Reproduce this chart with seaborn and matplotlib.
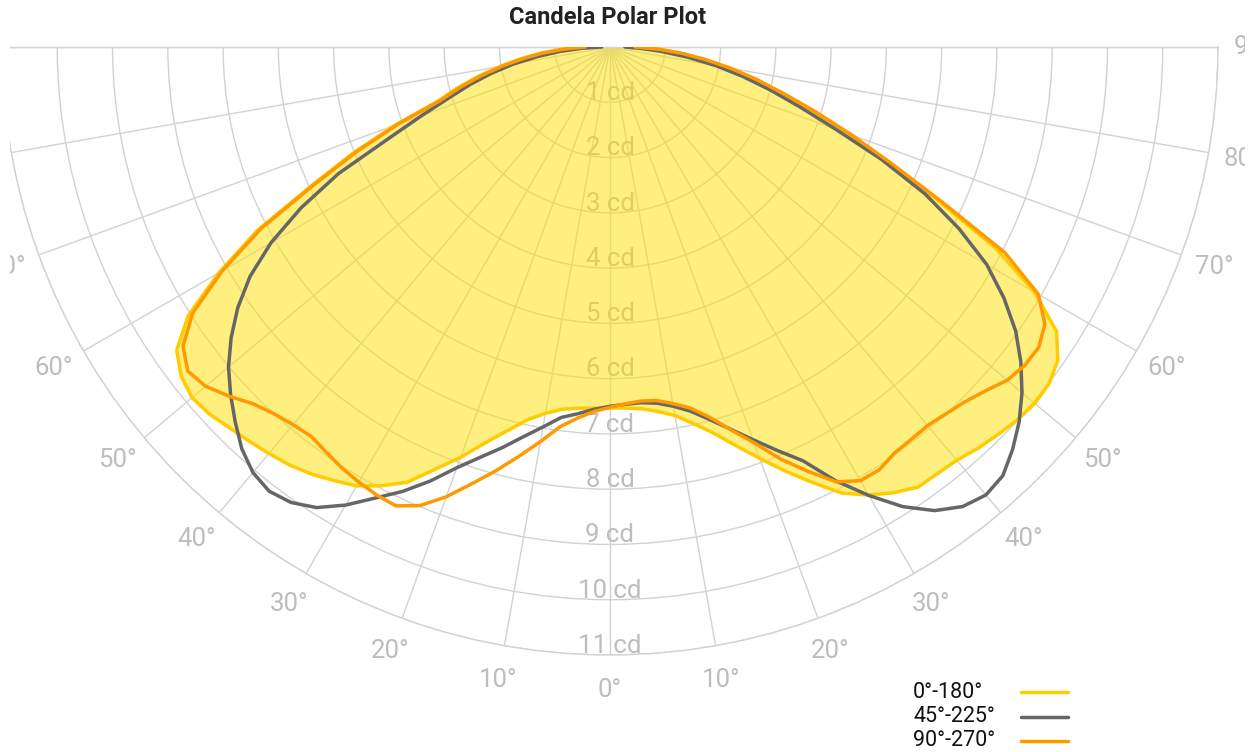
import numpy as np
import pandas as pd
import matplotlib
matplotlib.use("Agg")
import matplotlib.pyplot as plt
from matplotlib.lines import Line2D
from matplotlib.transforms import Bbox, TransformedBbox
import seaborn as sns

# ---------------- data ----------------
# vertical (gamma) angles, -90 .. 90 in 2.5 degree steps
gamma_deg = [-90 + 2.5 * i for i in range(73)]

cd_0_180 = [0.48, 0.85, 1.25, 1.62, 2.02, 2.43, 2.85, 3.27, 4.15, 5.05, 5.99, 7.2,
            8.17, 9.05, 9.57, 9.78, 9.87, 9.83, 9.74, 9.67, 9.60, 9.53, 9.43, 9.30,
            9.17, 8.95, 8.69, 8.27, 7.90, 7.51, 7.19, 6.91, 6.73, 6.61, 6.56, 6.54,
            6.53,
            6.54, 6.57, 6.65, 6.77, 6.98, 7.23, 7.56, 7.92, 8.31, 8.70, 9.10, 9.36,
            9.56, 9.72, 9.73, 9.76, 9.85, 9.92, 9.99, 10.03, 10.01, 9.89, 9.58, 8.87,
            7.85, 6.52, 5.45, 4.61, 3.86, 3.23, 2.70, 2.20, 1.72, 1.28, 0.85, 0.42]
cd_45_225 = [0.15, 0.5, 0.9, 1.32, 1.77, 2.2, 2.62, 3.05, 3.62, 4.35, 5.42, 6.3,
             7.08, 7.72, 8.22, 8.64, 9.01, 9.31, 9.59, 9.86, 10.05, 10.13, 10.06, 9.88,
             9.57, 9.2, 8.87, 8.50, 8.10, 7.78, 7.50, 7.22, 6.98, 6.76, 6.66, 6.56,
             6.50,
             6.47, 6.46, 6.50, 6.60, 6.75, 6.98, 7.25, 7.56, 7.90, 8.26, 8.85, 9.37,
             9.86, 10.24, 10.48, 10.58, 10.52, 10.30, 10.04, 9.73, 9.37, 8.96, 8.45, 7.87,
             7.12, 6.29, 5.32, 4.34, 3.6, 3.0, 2.46, 1.95, 1.42, 0.95, 0.55, 0.27]
cd_90_270 = [0.45, 0.82, 1.2, 1.57, 1.97, 2.38, 2.8, 3.22, 4.08, 4.98, 5.93, 7.12,
             8.1, 8.95, 9.43, 9.63, 9.55, 9.35, 9.13, 9.0, 8.92, 8.88, 8.95, 9.03,
             9.09, 9.14, 9.16, 8.98, 8.66, 8.28, 7.93, 7.58, 7.25, 6.93, 6.74, 6.6,
             6.52,
             6.46, 6.43, 6.45, 6.55, 6.69, 6.93, 7.26, 7.62, 8.07, 8.47, 8.87, 9.06,
             9.07, 8.97, 8.95, 8.94, 9.0, 9.08, 9.21, 9.38, 9.46, 9.47, 9.33, 8.95,
             8.05, 6.62, 5.52, 4.65, 3.9, 3.25, 2.72, 2.22, 1.74, 1.3, 0.87, 0.45]

series_names = ["0°-180°", "45°-225°", "90°-270°"]
series_colors = ["#ffcc00", "#666666", "#ff9900"]
radial_ticks = list(range(1, 12))
angle_ticks = list(range(-90, 91, 10))
angle_labels_shown = list(range(-70, 91, 10))

# ---------------- style ----------------
sns.set_style("white")
plt.rcParams["font.family"] = ["Roboto", "DejaVu Sans"]

W, H = 1256, 752
fig = plt.figure(figsize=(W / 100, H / 100), dpi=100)

# centre of the half-disc at (610, 47) px from top-left, radius 608 px
cx, cy, R = 610, 47, 608
# polar wedge bbox is kept square, so give a square box centred on the half-disc
box_top = cy + R / 2 - R
ax = fig.add_axes([(cx - R) / W, (H - box_top - 2 * R) / H, 2 * R / W, 2 * R / H],
                  projection="polar")
ax.set_theta_zero_location("S")
ax.set_theta_direction(1)
ax.set_thetamin(-90)
ax.set_thetamax(90)
ax.set_ylim(0, 11)
ax.set_axisbelow(True)

clip = TransformedBbox(Bbox([[10 / W, 0], [1245 / W, 1]]), fig.transFigure)

grid_col = "#d2d2d2"
ax.set_thetagrids(angle_ticks, labels=[""] * len(angle_ticks))
ax.set_rgrids(radial_ticks, labels=[""] * len(radial_ticks))
ax.grid(True, color=grid_col, linewidth=1.0)
for gl in ax.xaxis.get_gridlines() + ax.yaxis.get_gridlines():
    gl.set_clip_box(clip)
for sp in ax.spines.values():
    sp.set_color(grid_col)
    sp.set_linewidth(1.0)
    sp.set_clip_box(clip)
    sp.set_clip_on(True)
ax.tick_params(axis="both", length=0)

label_col = "#bdbdbd"
# radial labels (under the fill)
for k in radial_ticks:
    ax.text(0, k - 0.04, f"{k} cd", ha="center", va="baseline", fontsize=18.5,
            color=label_col, zorder=1)
# angle labels
for a in angle_labels_shown:
    t = ax.text(np.deg2rad(a), 11.63, f"{abs(a)}°", ha="center", va="center",
                fontsize=18.5, color=label_col, zorder=1)
    t.set_clip_box(clip)
    t.set_clip_on(True)

# ---------------- data marks ----------------
theta = np.deg2rad(np.array(gamma_deg, dtype=float))
ax.fill_between(theta, 0, cd_0_180, color="#ffe000", alpha=0.5, linewidth=0, zorder=2)

df = pd.DataFrame({
    "theta": np.concatenate([theta] * 3),
    "cd": np.concatenate([cd_0_180, cd_45_225, cd_90_270]),
    "series": np.repeat(series_names, len(theta)),
})
sns.lineplot(data=df, x="theta", y="cd", hue="series", hue_order=series_names,
             palette=dict(zip(series_names, series_colors)), sort=False,
             estimator=None, legend=False, linewidth=2.5, ax=ax, zorder=3)
ax.set_xlabel("")
ax.set_ylabel("")

# ---------------- title & legend ----------------
fig.text(608 / W, 1 - 18 / H, "Candela Polar Plot", ha="center", va="center",
         fontsize=17, fontweight="bold", color="#222222")

leg_y = [692, 717, 741]
for name, col, y in zip(series_names, series_colors, leg_y):
    fig.text(913 / W, 1 - y / H, name, ha="left", va="center", fontsize=15.5, color="#111111")
    fig.add_artist(Line2D([1021 / W, 1068 / W], [1 - y / H, 1 - y / H],
                          color=col, linewidth=2.5, transform=fig.transFigure))

fig.savefig("out.png", dpi=100)
